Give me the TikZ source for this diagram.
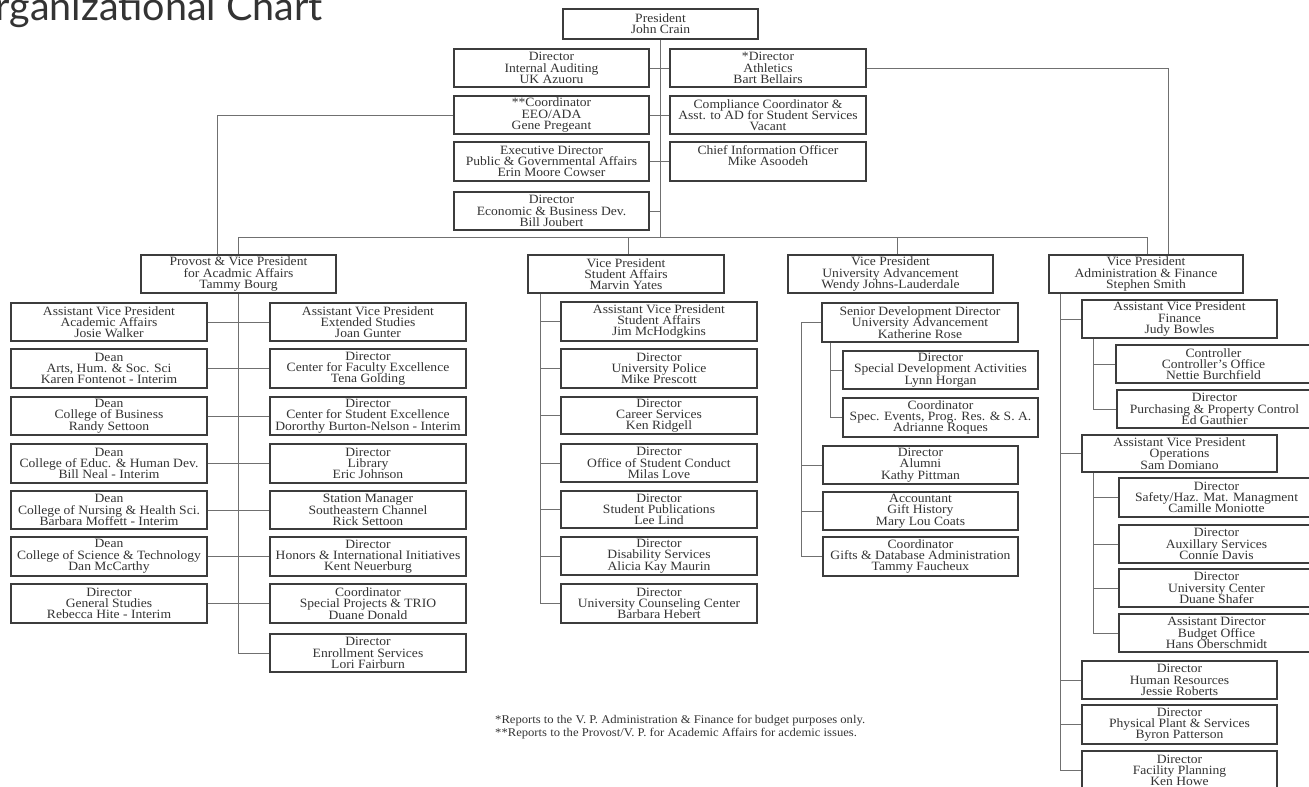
\documentclass[tikz,border=0pt]{standalone}
\usepackage{fontspec}
\setmainfont[FakeStretch=1.07]{Liberation Serif}
\newfontfamily\titlefont{Lato}
\usetikzlibrary{calc}
\definecolor{boxc}{HTML}{3C3C3C}
\definecolor{linec}{HTML}{707070}
\definecolor{txtc}{HTML}{333333}
\setlength{\lineskiplimit}{-50pt}
\newcommand{\ob}[6]{\node[obox, minimum width={(#4-#2)*1pt}, minimum height={(#5-#3)*1pt}] (#1) at ({(#2+#4)/2},{(#3+#5)/2}) {#6};}
\begin{document}
\begin{tikzpicture}[x=1pt,y=-1pt,
  obox/.style={draw=boxc, line width=1.3pt, align=center, inner sep=0pt, text=txtc, fill=white, font=\fontsize{12.7}{11.3}\selectfont},
  conn/.style={draw=linec, line width=0.9pt}]
\useasboundingbox (0,0) rectangle (1309,787);
\clip (0,0) rectangle (1309,787);

% title
\node[font=\titlefont\fontsize{39.5}{40}\selectfont, text=txtc, anchor=base east, inner sep=0pt] (title) at (323,20) {Organizational Chart};

% top level
\ob{pres}{563}{9}{758}{39}{President\\John Crain}
\ob{ia}{454}{49}{649}{87}{Director\\Internal Auditing\\UK Azuoru}
\ob{ath}{670}{49}{866}{87}{*Director\\Athletics\\Bart Bellairs}
\ob{eeo}{454}{96}{649}{134}{**Coordinator\\EEO/ADA\\Gene Pregeant}
\ob{comp}{670}{96}{866}{134}{Compliance Coordinator \&\\Asst. to AD for Student Services\\Vacant}
\ob{exd}{454}{142}{649}{181}{Executive Director\\Public \& Governmental Affairs\\Erin Moore Cowser}
\ob{cio}{670}{142}{866}{181}{Chief Information Officer\\Mike Asoodeh\\\mbox{}}
\ob{econ}{454}{192}{649}{230}{Director\\Economic \& Business Dev.\\Bill Joubert}

% vice presidents
\ob{prov}{141}{255}{336}{293}{Provost \& Vice President\\for Acadmic Affairs\\Tammy Bourg}
\ob{vpsa}{528}{255}{724}{293}{Vice President\\Student Affairs\\Marvin Yates}
\ob{vpua}{788}{255}{993}{293}{Vice President\\University Advancement\\Wendy Johns-Lauderdale}
\ob{vpaf}{1049}{255}{1243}{293}{Vice President\\Administration \& Finance\\Stephen Smith}

% provost left column
\ob{l1}{11}{303}{207}{341}{Assistant Vice President\\Academic Affairs\\Josie Walker}
\ob{l2}{11}{349}{207}{388}{Dean\\Arts, Hum. \& Soc. Sci\\Karen Fontenot - Interim}
\ob{l3}{11}{397}{207}{435}{Dean\\College of Business\\Randy Settoon}
\ob{l4}{11}{444}{207}{483}{Dean\\College of Educ. \& Human Dev.\\Bill Neal - Interim}
\ob{l5}{11}{491}{207}{529}{Dean\\College of Nursing \& Health Sci.\\Barbara Moffett - Interim}
\ob{l6}{11}{537}{207}{576}{Dean\\College of Science \& Technology\\Dan McCarthy}
\ob{l7}{11}{584}{207}{623}{Director\\General Studies\\Rebecca Hite - Interim}
% provost right column
\ob{r1}{270}{303}{466}{341}{Assistant Vice President\\Extended Studies\\Joan Gunter}
\ob{r2}{270}{349}{466}{388}{Director\\Center for Faculty Excellence\\Tena Golding}
\ob{r3}{270}{397}{466}{435}{Director\\Center for Student Excellence\\Dororthy Burton-Nelson - Interim}
\ob{r4}{270}{444}{466}{483}{Director\\Library\\Eric Johnson}
\ob{r5}{270}{491}{466}{529}{Station Manager\\Southeastern Channel\\Rick Settoon}
\ob{r6}{270}{537}{466}{576}{Director\\Honors \& International Initiatives\\Kent Neuerburg}
\ob{r7}{270}{584}{466}{623}{Coordinator\\Special Projects \& TRIO\\Duane Donald}
\ob{r8}{270}{634}{466}{672}{Director\\Enrollment Services\\Lori Fairburn}

% student affairs
\ob{s1}{561}{302}{757}{341}{Assistant Vice President\\Student Affairs\\Jim McHodgkins}
\ob{s2}{561}{349}{757}{388}{Director\\University Police\\Mike Prescott}
\ob{s3}{561}{397}{757}{434}{Director\\Career Services\\Ken Ridgell}
\ob{s4}{561}{444}{757}{482}{Director\\Office of Student Conduct\\Milas Love}
\ob{s5}{561}{491}{757}{528}{Director\\Student Publications\\Lee Lind}
\ob{s6}{561}{537}{757}{575}{Director\\Disability Services\\Alicia Kay Maurin}
\ob{s7}{561}{584}{757}{623}{Director\\University Counseling Center\\Barbara Hebert}

% university advancement
\ob{sdd}{822}{303}{1018}{342}{Senior Development Director\\University Advancement\\Katherine Rose}
\ob{sda}{843}{351}{1038}{389}{Director\\Special Development Activities\\Lynn Horgan}
\ob{seq}{843}{398}{1038}{437}{Coordinator\\Spec. Events, Prog. Res. \& S. A.\\Adrianne Roques}
\ob{alum}{823}{446}{1018}{484}{Director\\Alumni\\Kathy Pittman}
\ob{acct}{823}{492}{1018}{530}{Accountant\\Gift History\\Mary Lou Coats}
\ob{gifts}{823}{537}{1018}{576}{Coordinator\\Gifts \& Database Administration\\Tammy Faucheux}

% administration & finance
\ob{avpf}{1082}{300}{1277}{338}{Assistant Vice President\\Finance\\Judy Bowles}
\ob{ctrl}{1116}{345}{1311}{383}{Controller\\Controller's Office\\Nettie Burchfield}
\ob{purch}{1117}{390}{1312}{428}{Director\\Purchasing \& Property Control\\Ed Gauthier}
\ob{avpo}{1082}{435}{1277}{472}{Assistant Vice President\\Operations\\Sam Domiano}
\ob{safety}{1119}{478}{1314}{517}{Director\\Safety/Haz. Mat. Managment\\Camille Moniotte}
\ob{aux}{1119}{525}{1314}{563}{Director\\Auxillary Services\\Connie Davis}
\ob{uc}{1119}{569}{1314}{607}{Director\\University Center\\Duane Shafer}
\ob{budget}{1119}{614}{1314}{652}{Assistant Director\\Budget Office\\Hans Oberschmidt}
\ob{hr}{1082}{661}{1277}{699}{Director\\Human Resources\\Jessie Roberts}
\ob{pp}{1082}{705}{1277}{744}{Director\\Physical Plant \& Services\\Byron Patterson}
\ob{fp}{1082}{751}{1277}{790}{Director\\Facility Planning\\Ken Howe}

% footnote
\node[anchor=north west, align=left, inner sep=0pt, text=txtc, font=\fontsize{11.8}{12.5}\selectfont] (note) at (495,715)
 {*Reports to the V. P. Administration \& Finance for budget purposes only.\\
  **Reports to the Provost/V. P. for Academic Affairs for acdemic issues.};

% ---------- connectors ----------
\coordinate (xP) at (238,237);
\coordinate (xS) at (628,237);
\coordinate (xU) at (897,237);
\coordinate (xA) at (1147,237);
\coordinate (xAth) at (1168,68);
\coordinate (xEEO) at (217,115);
\coordinate (pt) at (238,0);
\coordinate (st) at (540,0);
\coordinate (ut) at (801,0);
\coordinate (ut2) at (830,0);
\coordinate (at) at (1060,0);
\coordinate (at2) at (1093,0);

\draw[conn] (pres.south) -- (pres.south |- xP);
\draw[conn] (xP) -- (xA);
\foreach \n in {ia,eeo,exd,econ} \draw[conn] (\n.east) -- (\n.east -| pres.south);
\foreach \n in {ath,comp,cio} \draw[conn] (\n.west) -- (\n.west -| pres.south);
\draw[conn] (xP) -- (xP |- prov.north);
\draw[conn] (xS) -- (xS |- vpsa.north);
\draw[conn] (xU) -- (xU |- vpua.north);
\draw[conn] (xA) -- (xA |- vpaf.north);
\draw[conn] (ath.east) -- (xAth) -- (xAth |- vpaf.north);
\draw[conn] (eeo.west) -- (xEEO) -- (xEEO |- prov.north);

% provost
\draw[conn] (prov.south -| pt) |- (r8.west);
\foreach \i in {1,...,7} \draw[conn] (l\i.east) -- (r\i.west);

% student affairs
\draw[conn] (vpsa.south -| st) |- (s7.west);
\foreach \i in {1,...,6} \draw[conn] (s\i.west) -- (s\i.west -| st);

% university advancement
\draw[conn] (sdd.west) -| (ut |- gifts.west) -- (gifts.west);
\foreach \n in {alum,acct} \draw[conn] (\n.west) -- (\n.west -| ut);
\draw[conn] (sdd.south -| ut2) |- (seq.west);
\draw[conn] (sda.west) -- (sda.west -| ut2);

% administration & finance
\draw[conn] (vpaf.south -| at) |- (fp.west);
\foreach \n in {avpf,avpo,hr,pp} \draw[conn] (\n.west) -- (\n.west -| at);
\draw[conn] (avpf.south -| at2) |- (purch.west);
\draw[conn] (ctrl.west) -- (ctrl.west -| at2);
\draw[conn] (avpo.south -| at2) |- (budget.west);
\foreach \n in {safety,aux,uc} \draw[conn] (\n.west) -- (\n.west -| at2);
\end{tikzpicture}
\end{document}
